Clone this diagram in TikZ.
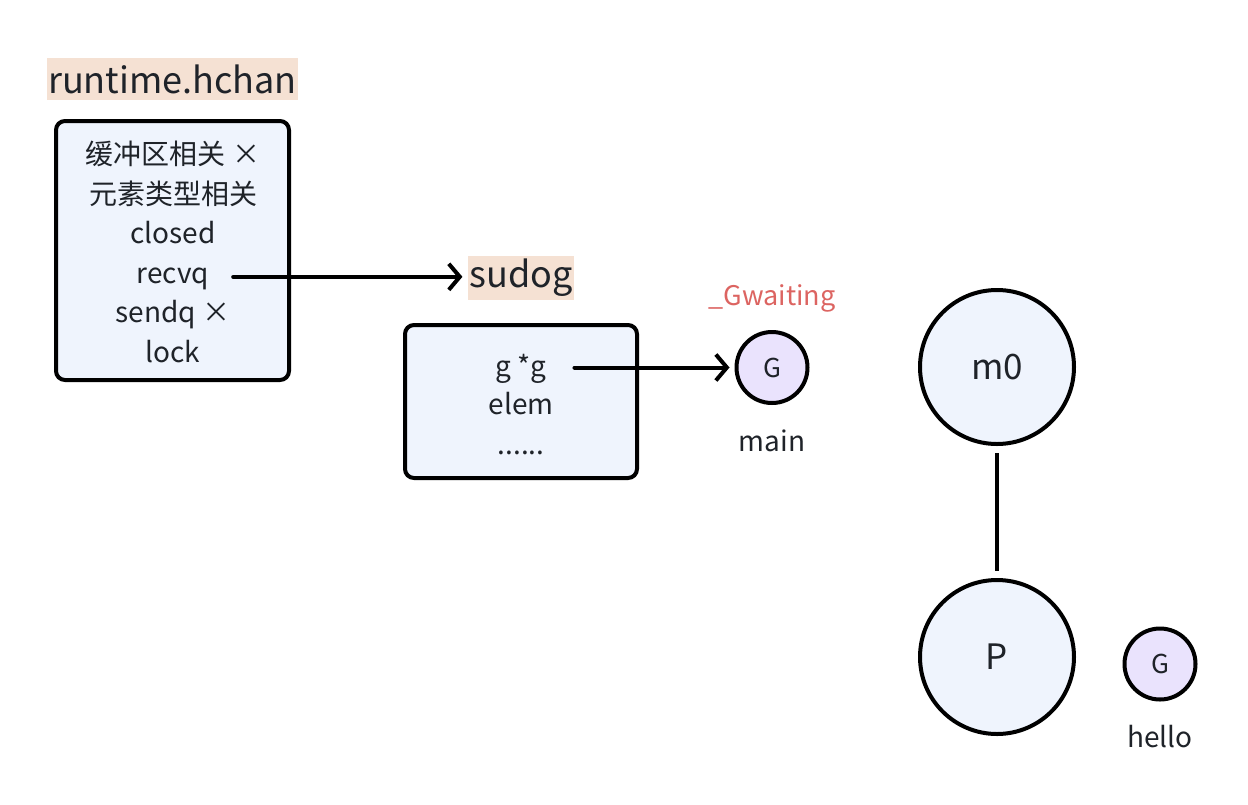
\documentclass[tikz,border=0pt]{standalone}
\usepackage{fontspec}
\setmainfont{Noto Sans CJK SC}
\usetikzlibrary{positioning,arrows.meta}
\definecolor{boxfill}{HTML}{EFF4FD}
\definecolor{gfill}{HTML}{EAE3FD}
\definecolor{tagfill}{HTML}{F5E1D3}
\definecolor{inkgray}{HTML}{1F2329}
\definecolor{waitred}{HTML}{DC6461}

\begin{document}
\begin{tikzpicture}[x=1pt, y=-1pt, line width=4pt, text=inkgray,
    font=\fontsize{28}{32}\selectfont,
    box/.style={draw=black, fill=boxfill, rounded corners=9pt, inner sep=0pt},
    tag/.style={fill=tagfill, inner xsep=1pt, minimum height=42pt, font=\fontsize{36}{40}\selectfont},
    field/.style={inner sep=0pt, text height=0.72em, text depth=0.22em},
    bigcirc/.style={circle, draw=black, fill=boxfill, minimum size=154pt, inner sep=0pt, font=\fontsize{35}{40}\selectfont},
    gcirc/.style={circle, draw=black, fill=gfill, minimum size=71pt, inner sep=0pt, font=\fontsize{26}{30}\selectfont},
    ptr/.style={-{Straight Barb[length=11pt,width=26pt]}, line cap=round}]
    \useasboundingbox (0,0) rectangle (1248,804);

    % hchan
    \node[tag] (hchantag) at (172.5,79) {runtime.hchan};
    \node[box, minimum width=233pt, minimum height=259pt] (hchan) at (172.5,250.5) {};
    \foreach \txt/\name [count=\i] in {缓冲区相关 ×/buf, 元素类型相关/elemtype, closed/closed, recvq/recvq, sendq ×/sendq, lock/lock}
        \node[field] (\name) at (173, 162+39.6*\i-39.6) {\txt};

    % sudog
    \node[tag] (sudogtag) at (521,278) {sudog};
    \node[box, minimum width=232pt, minimum height=153pt] (sudog) at (521,401.5) {};
    \node[field] (gptr) at (521,374) {g *g};
    \node[field] (elem) at (521,412) {elem};
    \node[field] (more) at (521,452) {......};

    % goroutines
    \node[gcirc] (gmain) at (772,367.5) {G};
    \node[text=waitred, font=\fontsize{27}{32}\selectfont] (gstate) at (772,298) {\_Gwaiting};
    \node (gmainname) at (772,441) {main};
    \node[gcirc] (ghello) at (1160,664) {G};
    \node (ghelloname) at (1160,737) {hello};

    % M and P
    \node[bigcirc] (m0) at (997,367) {m0};
    \node[bigcirc] (p) at (997,657) {P};

    \draw[ptr] ([xshift=22pt, yshift=4pt]recvq.east) -- ([xshift=-4pt, yshift=4pt]sudogtag.west |- recvq.east);
    \draw[ptr] ([xshift=26pt]gptr.east |- gmain.west) -- ([xshift=-5pt]gmain.west);
    \draw[shorten <=7pt, shorten >=7pt] (m0) -- (p);
\end{tikzpicture}
\end{document}
